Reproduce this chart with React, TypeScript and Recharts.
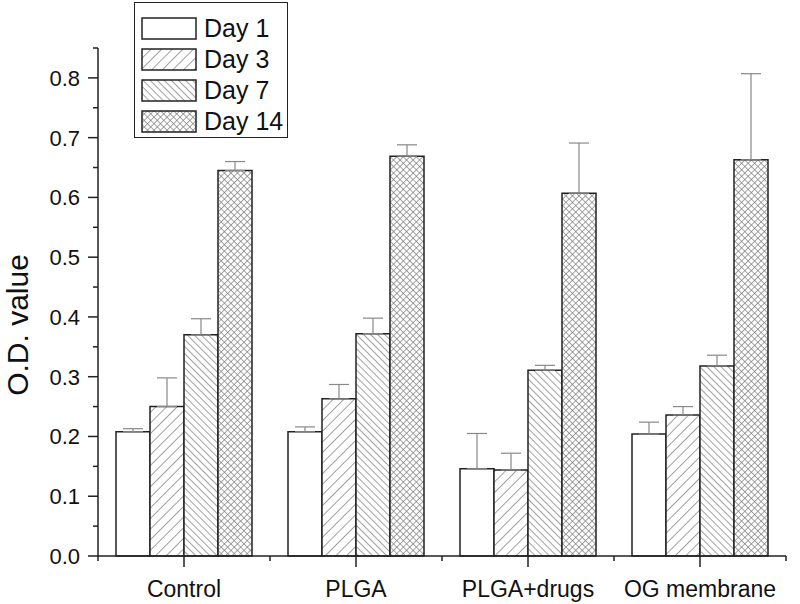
import { Bar, BarChart, ErrorBar, XAxis, YAxis } from "recharts";

const categories = ["Control", "PLGA", "PLGA+drugs", "OG membrane"];
const seriesNames = ["Day 1", "Day 3", "Day 7", "Day 14"];

const day1 = [0.208, 0.208, 0.146, 0.204];
const day1Err = [0.005, 0.008, 0.059, 0.020];
const day3 = [0.250, 0.263, 0.144, 0.236];
const day3Err = [0.048, 0.024, 0.028, 0.014];
const day7 = [0.370, 0.372, 0.311, 0.318];
const day7Err = [0.027, 0.026, 0.008, 0.018];
const day14 = [0.645, 0.669, 0.607, 0.663];
const day14Err = [0.015, 0.019, 0.084, 0.144];

const yTicks = [0, 0.05, 0.1, 0.15, 0.2, 0.25, 0.3, 0.35, 0.4, 0.45, 0.5, 0.55, 0.6, 0.65, 0.7, 0.75, 0.8, 0.85];

const data = categories.map((name, i) => ({
  name,
  d1: day1[i],
  d1e: [0, day1Err[i]],
  d3: day3[i],
  d3e: [0, day3Err[i]],
  d7: day7[i],
  d7e: [0, day7Err[i]],
  d14: day14[i],
  d14e: [0, day14Err[i]],
}));

const fills = ["#ffffff", "url(#hatchFwd)", "url(#hatchBack)", "url(#hatchCross)"];

const W = 800;
const H = 604;
const Y_W = 98;
const MARGIN = { top: 48, right: 14, bottom: 0, left: 0 };
const X_H = H - 556 - MARGIN.bottom;
const PLOT_W = W - Y_W - MARGIN.left - MARGIN.right;
const FONT = '"Liberation Sans", Arial, sans-serif';
const AXIS = "#222";

function YTick({ x, y, payload }: any) {
  const v = payload.value as number;
  const major = Math.round(v * 100) % 10 === 0;
  return (
    <g>
      <line x1={x} x2={x - (major ? 10 : 5)} y1={y} y2={y} stroke={AXIS} strokeWidth={1.5} />
      {major && (
        <text x={x - 18} y={y} dy={8} textAnchor="end" fontSize={22} fontFamily={FONT} fill="#111">
          {v.toFixed(1)}
        </text>
      )}
    </g>
  );
}

function XTick({ x, y, payload, index }: any) {
  const half = PLOT_W / 8;
  return (
    <g>
      <line x1={x} x2={x} y1={y} y2={y + 11} stroke={AXIS} strokeWidth={1.5} />
      <line x1={x + half} x2={x + half} y1={y} y2={y + 5} stroke={AXIS} strokeWidth={1.5} />
      {index === 0 && <line x1={x - half} x2={x - half} y1={y} y2={y + 5} stroke={AXIS} strokeWidth={1.5} />}
      <text x={x} y={y + 41} textAnchor="middle" fontSize={23} fontFamily={FONT} fill="#111">
        {payload.value}
      </text>
    </g>
  );
}

function LegendBox() {
  return (
    <div
      style={{
        position: "absolute",
        left: 134,
        top: 2,
        width: 154,
        height: 136,
        border: "1.5px solid #222",
        background: "#fff",
        padding: "10px 0 0 6px",
        fontFamily: FONT,
        fontSize: 25,
        color: "#111",
        boxSizing: "border-box",
      }}
    >
      {seriesNames.map((s, i) => (
        <div key={s} style={{ display: "flex", alignItems: "center", height: 31, whiteSpace: "nowrap" }}>
          <svg width={57} height={24} style={{ marginRight: 6, flexShrink: 0 }}>
            <rect x={1} y={1} width={54} height={21} fill={fills[i]} stroke={AXIS} strokeWidth={1.5} />
          </svg>
          <span>{s}</span>
        </div>
      ))}
    </div>
  );
}

export default function App() {
  return (
    <div style={{ position: "absolute", left: 0, top: 0, width: W, height: H, background: "#fff" }}>
      <svg width={0} height={0} style={{ position: "absolute" }}>
        <defs>
          <pattern id="hatchFwd" width={7.5} height={7.5} patternUnits="userSpaceOnUse" patternTransform="rotate(45)">
            <rect width={7.5} height={7.5} fill="#fff" />
            <line x1={0} y1={0} x2={0} y2={7.5} stroke="#555" strokeWidth={1.1} />
          </pattern>
          <pattern id="hatchBack" width={5} height={5} patternUnits="userSpaceOnUse" patternTransform="rotate(-45)">
            <rect width={5} height={5} fill="#fff" />
            <line x1={0} y1={0} x2={0} y2={5} stroke="#555" strokeWidth={1.1} />
          </pattern>
          <pattern id="hatchCross" width={4.6} height={4.6} patternUnits="userSpaceOnUse" patternTransform="rotate(45)">
            <rect width={4.6} height={4.6} fill="#fff" />
            <line x1={0} y1={0} x2={0} y2={4.6} stroke="#777" strokeWidth={1.3} />
            <line x1={0} y1={0} x2={4.6} y2={0} stroke="#777" strokeWidth={1.3} />
          </pattern>
        </defs>
      </svg>
      <BarChart width={W} height={H} data={data} margin={MARGIN} barCategoryGap={18} barGap={0}>
        <XAxis
          dataKey="name"
          height={X_H}
          tickSize={0}
          tickMargin={0}
          tick={<XTick />}
          axisLine={{ stroke: AXIS, strokeWidth: 1.5 }}
          tickLine={false}
          interval={0}
        />
        <YAxis
          width={Y_W}
          domain={[0, 0.85]}
          ticks={yTicks}
          tickSize={0}
          tickMargin={0}
          tick={<YTick />}
          axisLine={{ stroke: AXIS, strokeWidth: 1.5 }}
          tickLine={false}
          interval={0}
        />
        {["d1", "d3", "d7", "d14"].map((k, i) => (
          <Bar key={k} dataKey={k} fill={fills[i]} stroke={AXIS} strokeWidth={1.5} isAnimationActive={false}>
            <ErrorBar dataKey={`${k}e`} width={10} stroke="#888" strokeWidth={1.2} direction="y" />
          </Bar>
        ))}
      </BarChart>
      <LegendBox />
      <div
        style={{
          position: "absolute",
          left: 18,
          top: 325,
          transform: "translate(-50%, -50%) rotate(-90deg)",
          fontFamily: FONT,
          fontSize: 30,
          lineHeight: 1,
          color: "#111",
          whiteSpace: "nowrap",
        }}
      >
        O.D. value
      </div>
    </div>
  );
}
